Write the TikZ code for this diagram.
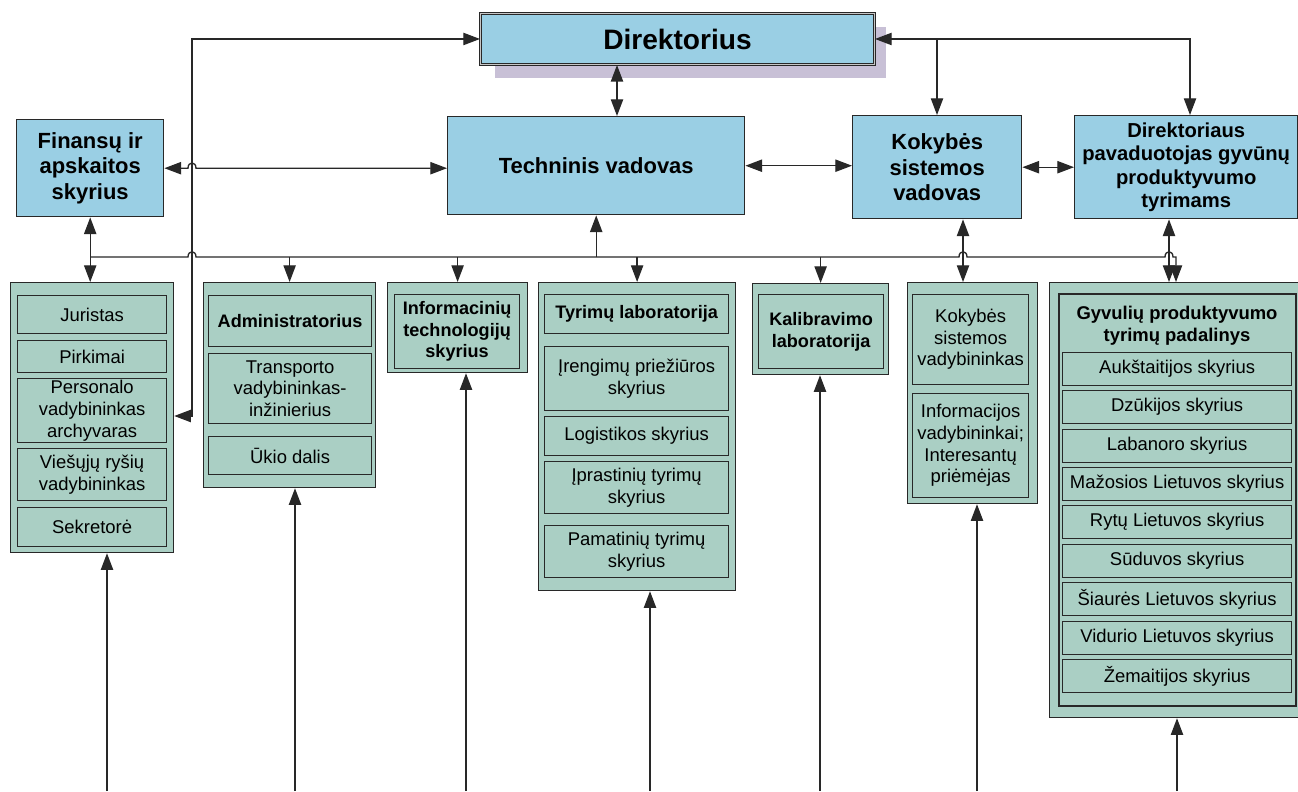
\documentclass[tikz,border=0pt]{standalone}
\usepackage{fontspec}
\setmainfont{Liberation Sans}
\usetikzlibrary{arrows.meta,calc}
\newlength{\unitpx}
\setlength{\unitpx}{0.02cm}
\definecolor{skyb}{RGB}{154,207,228}
\definecolor{sage}{RGB}{170,207,196}
\definecolor{edge}{RGB}{40,40,40}
\definecolor{lilac}{RGB}{200,192,214}
\begin{document}
\begin{tikzpicture}[x=0.02cm, y=-0.02cm,
  wh/.style 2 args={minimum width=#1*\unitpx, minimum height=#2*\unitpx},
  bluebox/.style={draw=edge, fill=skyb, line width=0.8pt, anchor=north west, inner sep=0pt,
    align=center, font=\fontsize{12.5}{14.7}\selectfont\bfseries},
  grp/.style={draw=edge, fill=sage, line width=0.7pt, anchor=north west, inner sep=0pt},
  cell/.style={draw=edge, fill=sage, line width=0.7pt, anchor=north west, inner sep=0pt,
    align=center, font=\fontsize{10.5}{12.3}\selectfont},
  head/.style={cell, font=\fontsize{10.3}{12.3}\selectfont\bfseries},
  conn/.style={draw=edge, line width=0.75pt, >={Triangle[length=9.5pt,width=7pt]}},
  hopover/.style={insert path={-- ($(#1)+(-4,0)$) .. controls +(0,-7) and +(0,-7) .. ($(#1)+(4,0)$)}}]

  \fill[white] (0,0) rectangle (1298,791);
  \useasboundingbox (0,0) rectangle (1298,791);

  \fill[lilac] (495,27) rectangle (886,78);
  \node[bluebox, wh={394}{51}, line width=0.55pt, double=gray!45, double distance=0.9pt,
    font=\fontsize{16}{19}\selectfont\bfseries] (dir) at (480,13) {Direktorius};

  \node[bluebox, wh={147}{97}] (fin) at (16,119) {Finansų ir\\apskaitos\\skyrius};
  \node[bluebox, wh={297}{98}] (tech) at (447,116) {Techninis vadovas};
  \node[bluebox, wh={169}{103}] (kv) at (852,115) {Kokybės\\sistemos\\vadovas};
  \node[bluebox, wh={223}{103}, font=\fontsize{11.5}{13.3}\selectfont\bfseries] (pav) at (1074,115)
    {Direktoriaus\\pavaduotojas gyvūnų\\produktyvumo\\tyrimams};

  \node[grp, wh={163}{270}] (g1) at (10,282) {};
  \node[cell, wh={149}{38}] (jur) at (17,295) {Juristas};
  \node[cell, wh={149}{32}] (pirk) at (17,340) {Pirkimai};
  \node[cell, wh={149}{64}] (pers) at (17,378) {Personalo\\vadybininkas\\archyvaras};
  \node[cell, wh={149}{52}] (vies) at (17,448) {Viešųjų ryšių\\vadybininkas};
  \node[cell, wh={149}{39}] (sekr) at (17,507) {Sekretorė};

  \node[grp, wh={172}{205}] (g2) at (203,282) {};
  \node[head, wh={163}{51}] (adm) at (208,295) {Administratorius};
  \node[cell, wh={163}{70}] (tran) at (208,353) {Transporto\\vadybininkas-\\inžinierius};
  \node[cell, wh={163}{38}] (ukio) at (208,436) {Ūkio dalis};

  \node[grp, wh={140}{90}] (g3) at (387,282) {};
  \node[head, wh={125}{74}] (it) at (394,294) {Informacinių\\technologijų\\skyrius};

  \node[grp, wh={197}{308}] (g4) at (538,282) {};
  \node[head, wh={184}{39}] (tlab) at (544,294) {Tyrimų laboratorija};
  \node[cell, wh={184}{64}] (iren) at (544,346) {Įrengimų priežiūros\\skyrius};
  \node[cell, wh={184}{39}] (logi) at (544,416) {Logistikos skyrius};
  \node[cell, wh={184}{52}] (ipr) at (544,461) {Įprastinių tyrimų\\skyrius};
  \node[cell, wh={184}{52}] (pam) at (544,525) {Pamatinių tyrimų\\skyrius};

  \node[grp, wh={136}{91}] (g5) at (752,283) {};
  \node[head, wh={125}{74}] (kal) at (758,294) {Kalibravimo\\laboratorija};

  \node[grp, wh={130}{221}] (g6) at (907,282) {};
  \node[cell, wh={116}{90}] (ksv) at (912,294) {Kokybės\\sistemos\\vadybininkas};
  \node[cell, wh={116}{104}] (info) at (912,393) {Informacijos\\vadybininkai;\\Interesantų\\priėmėjas};

  \node[grp, wh={255}{435}] (g7) at (1049,282) {};
  \node[grp, wh={237}{412}, line width=1.4pt] (g7in) at (1058,293) {};
  \node[font=\fontsize{10.5}{12.3}\selectfont\bfseries, align=center] (gyv) at (1177,326)
    {Gyvulių produktyvumo\\tyrimų padalinys};
  \node[cell, wh={229}{33}] (auk) at (1062,352) {Aukštaitijos skyrius};
  \node[cell, wh={229}{33}] (dzu) at (1062,390) {Dzūkijos skyrius};
  \node[cell, wh={229}{33}] (lab) at (1062,429) {Labanoro skyrius};
  \node[cell, wh={229}{33}] (maz) at (1062,467) {Mažosios Lietuvos skyrius};
  \node[cell, wh={229}{33}] (ryt) at (1062,505) {Rytų Lietuvos skyrius};
  \node[cell, wh={229}{33}] (sud) at (1062,544) {Sūduvos skyrius};
  \node[cell, wh={229}{33}] (sia) at (1062,582) {Šiaurės Lietuvos skyrius};
  \node[cell, wh={229}{33}] (vid) at (1062,621) {Vidurio Lietuvos skyrius};
  \node[cell, wh={229}{33}] (zem) at (1062,659) {Žemaitijos skyrius};

  \coordinate (xL) at (192,0);
  \coordinate (xDT) at (617,0);
  \coordinate (xKV) at (937,0);
  \coordinate (xPV) at (1190,0);
  \coordinate (xKG) at (963,0);
  \coordinate (xPG) at (1169,0);
  \coordinate (xGB) at (1176,0);
  \coordinate (yP) at (0,416);
  \coordinate (yBus) at (0,257);
  \coordinate (in1) at (107,791);
  \coordinate (in2) at (295,791);
  \coordinate (in3) at (466,791);
  \coordinate (in4) at (650,791);
  \coordinate (in5) at (820,791);
  \coordinate (in6) at (977,791);
  \coordinate (in7) at (1177,791);

  \draw[conn,<->] (dir.west) -| (xL |- yP) -- (g1.east |- yP);
  \draw[conn,<->] (dir.east) -| (pav.north -| xPV);
  \draw[conn,->] (dir.east -| xKV) -- (kv.north -| xKV);
  \draw[conn,<->] (dir.south -| xDT) -- (tech.north -| xDT);

  \draw[conn,<->] (fin.east) [hopover={fin.east -| xL}] -- (fin.east -| tech.west);
  \draw[conn,<->] (tech.east) -- (tech.east -| kv.west);
  \draw[conn,<->] (kv.east) -- (kv.east -| pav.west);

  \draw[conn,<->] (fin.south) -- (fin.south |- g1.north);
  \draw[conn,->] (fin.south |- yBus) [hopover={xL |- yBus}] [hopover={xKG |- yBus}]
    [hopover={xPG |- yBus}] -| (g7.north -| xGB);
  \draw[conn,->] (tech.south |- yBus) -- (tech.south);
  \draw[conn,->] (g2.north |- yBus) -- (g2.north);
  \draw[conn,->] (g3.north |- yBus) -- (g3.north);
  \draw[conn,->] (g4.north |- yBus) -- (g4.north);
  \draw[conn,->] (g5.north |- yBus) -- (g5.north);
  \draw[conn,<->] (kv.south -| xKG) -- (g6.north -| xKG);
  \draw[conn,<->] (pav.south -| xPG) -- (g7.north -| xPG);

  \draw[conn,->] (in1) -- (g1.south -| in1);
  \draw[conn,->] (in2) -- (g2.south -| in2);
  \draw[conn,->] (in3) -- (g3.south -| in3);
  \draw[conn,->] (in4) -- (g4.south -| in4);
  \draw[conn,->] (in5) -- (g5.south -| in5);
  \draw[conn,->] (in6) -- (g6.south -| in6);
  \draw[conn,->] (in7) -- (g7.south -| in7);
\end{tikzpicture}
\end{document}
